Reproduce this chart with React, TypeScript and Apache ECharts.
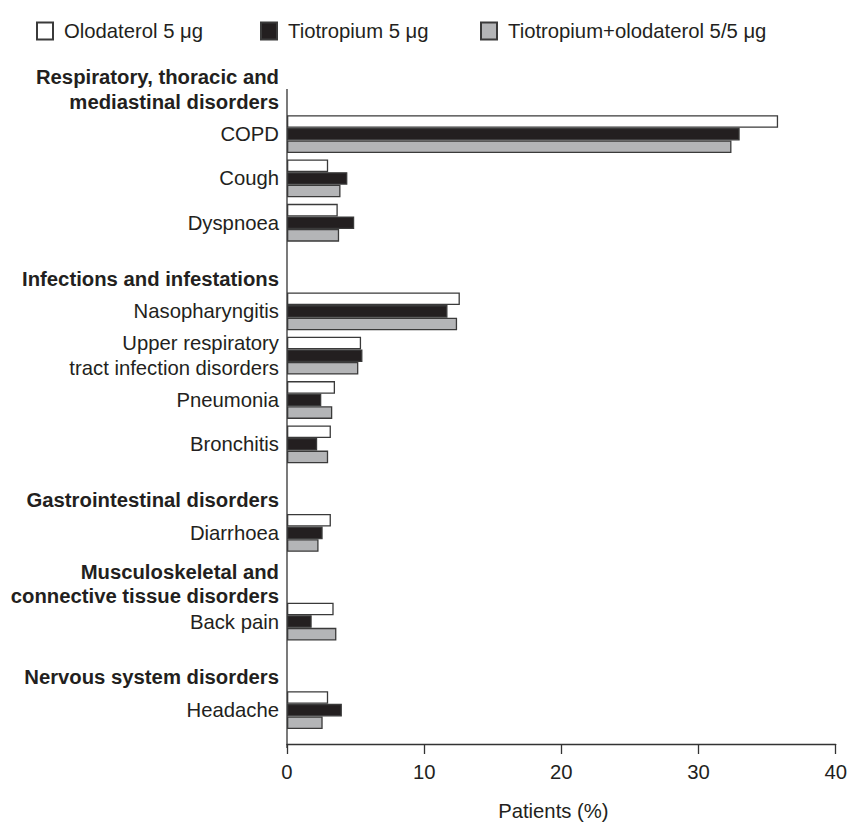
import React, { useEffect, useRef } from "react";
import * as echarts from "echarts";

const categories = [
  "Respiratory, thoracic and\nmediastinal disorders",
  "COPD",
  "Cough",
  "Dyspnoea",
  "Infections and infestations",
  "Nasopharyngitis",
  "Upper respiratory\ntract infection disorders",
  "Pneumonia",
  "Bronchitis",
  "Gastrointestinal disorders",
  "Diarrhoea",
  "Musculoskeletal and\nconnective tissue disorders",
  "Back pain",
  "Nervous system disorders",
  "Headache",
];

const headers = [
  "Respiratory, thoracic and\nmediastinal disorders",
  "Infections and infestations",
  "Gastrointestinal disorders",
  "Musculoskeletal and\nconnective tissue disorders",
  "Nervous system disorders",
];

const seriesNames = ["Olodaterol 5 μg", "Tiotropium 5 μg", "Tiotropium+olodaterol 5/5 μg"];

const olodaterol = [null, 35.8, 3.0, 3.7, null, 12.6, 5.4, 3.5, 3.2, null, 3.2, null, 3.4, null, 3.0];
const tiotropium = [null, 33.0, 4.4, 4.9, null, 11.7, 5.5, 2.5, 2.2, null, 2.6, null, 1.8, null, 4.0];
const combo = [null, 32.4, 3.9, 3.8, null, 12.4, 5.2, 3.3, 3.0, null, 2.3, null, 3.6, null, 2.6];

const xTicks = { min: 0, max: 40, interval: 10 };

const FONT = '"Liberation Sans", Arial, Helvetica, sans-serif';
const TEXT = "#231f20";
const BORDER = "#3a3a3a";
const FS = 20.3;

export default function App() {
  const ref = useRef<HTMLDivElement>(null);

  useEffect(() => {
    document.body.style.margin = "0";
    if (!ref.current) return;
    const chart = echarts.init(ref.current, undefined, { renderer: "svg" });

    const fills = ["#ffffff", "#231f20", "#b4b5b7"];
    const datas = [olodaterol, tiotropium, combo];
    const legendLefts = [31, 255, 475];

    const option: any = {
      animation: false,
      textStyle: { fontFamily: FONT, color: TEXT },
      legend: seriesNames.map((n, i) => ({
        left: legendLefts[i],
        top: 16,
        itemWidth: 16,
        itemHeight: 17,
        icon: "rect",
        textStyle: { fontSize: FS, color: TEXT, fontFamily: FONT, padding: [0, 0, 0, 6] },
        data: [n],
      })),
      grid: { left: 287, right: 13, top: 67.7, bottom: 89.7, containLabel: false },
      xAxis: {
        type: "value",
        min: xTicks.min,
        max: xTicks.max,
        interval: xTicks.interval,
        offset: 11.7,
        splitLine: { show: false },
        axisLine: { show: true, lineStyle: { color: "#333", width: 1.3 } },
        axisTick: { show: true, length: 10, lineStyle: { color: "#333", width: 1.3 } },
        axisLabel: { fontSize: FS, color: TEXT, fontFamily: FONT, margin: 18 },
        name: "Patients (%)",
        nameLocation: "middle",
        nameGap: 57,
        nameTextStyle: { fontSize: FS, color: TEXT, fontFamily: FONT, padding: [0, 16, 0, 0] },
      },
      yAxis: {
        type: "category",
        inverse: true,
        data: categories,
        axisLine: { show: false },
        axisTick: { show: false },
        axisLabel: {
          margin: 8,
          interval: 0,
          align: "right",
          fontSize: FS,
          lineHeight: 25,
          color: TEXT,
          fontFamily: FONT,
          formatter: (v: string) => {
            const idx = headers.indexOf(v);
            if (idx >= 0) {
              if (v.indexOf("\n") >= 0) {
                const lines = v.split("\n");
                if (idx === 0) return lines.map((l) => "{h|" + l + "}").join("\n");
                return "{sp| }\n" + lines.map((l) => "{hm|" + l + "}").join("\n");
              }
              return "{hs|" + v + "}";
            }
            return v;
          },
          rich: {
            h: { fontWeight: "bold", fontSize: FS, lineHeight: 25, color: TEXT, fontFamily: FONT, align: "right" },
            hm: { fontWeight: "bold", fontSize: FS, lineHeight: 24, color: TEXT, fontFamily: FONT, align: "right" },
            sp: { fontSize: 1, lineHeight: 13 },
            hs: {
              fontWeight: "bold",
              fontSize: FS,
              lineHeight: 25,
              color: TEXT,
              fontFamily: FONT,
              align: "right",
              padding: [23, 0, 0, 0],
            },
          },
        },
      },
      graphic: [
        {
          type: "line",
          shape: { x1: 287, y1: 89, x2: 287, y2: 748 },
          style: { stroke: "#333", lineWidth: 1.3 },
          silent: true,
        },
      ],
      series: seriesNames.map((name, i) => ({
        name,
        type: "bar",
        data: datas[i],
        barWidth: 12.6,
        barGap: "0%",
        itemStyle: { color: fills[i], borderColor: BORDER, borderWidth: 1.3 },
      })),
    };

    chart.setOption(option);
    return () => chart.dispose();
  }, []);

  return <div ref={ref} style={{ width: 850, height: 826 }} />;
}
